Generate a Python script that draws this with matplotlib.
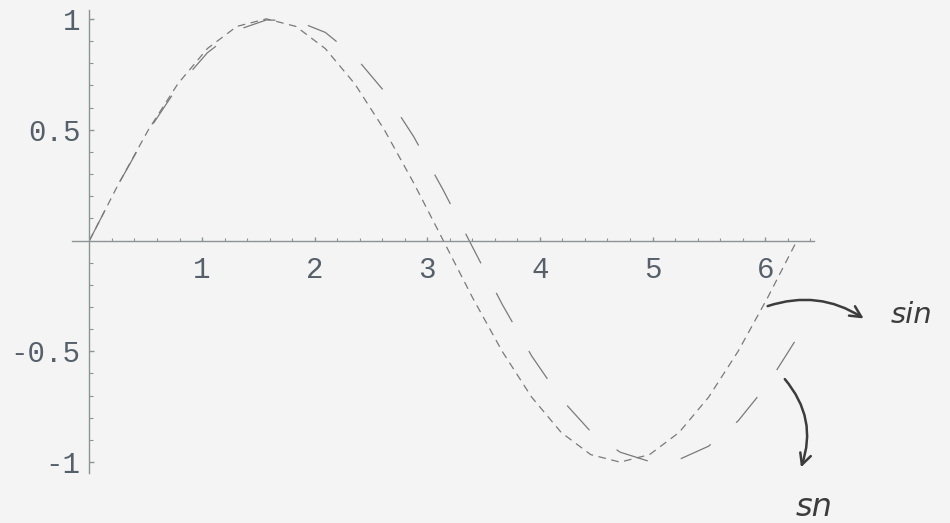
import matplotlib
matplotlib.use("Agg")
import matplotlib.pyplot as plt
from matplotlib.ticker import FixedLocator, FixedFormatter

# ---- data ----
x_vals = [0.000, 0.262, 0.524, 0.785, 1.047, 1.309, 1.571, 1.833, 2.094, 2.356,
          2.618, 2.880, 3.142, 3.403, 3.665, 3.927, 4.189, 4.451, 4.712, 4.974,
          5.236, 5.498, 5.760, 6.021, 6.283]
sin_vals = [0.000, 0.259, 0.500, 0.707, 0.866, 0.966, 1.000, 0.966, 0.866, 0.707,
            0.500, 0.259, 0.000, -0.259, -0.500, -0.707, -0.866, -0.966, -1.000, -0.966,
            -0.866, -0.707, -0.500, -0.259, 0.000]
sn_vals = [0.000, 0.258, 0.495, 0.694, 0.847, 0.949, 0.995, 0.992, 0.939, 0.831,
           0.673, 0.468, 0.227, -0.031, -0.288, -0.521, -0.715, -0.862, -0.955, -0.997,
           -0.988, -0.928, -0.814, -0.650, -0.440]

x_major = [1, 2, 3, 4, 5, 6]
x_major_labels = ["1", "2", "3", "4", "5", "6"]
y_major = [-1, -0.5, 0.5, 1]
y_major_labels = ["-1", "-0.5", "0.5", "1"]
x_minor = [i * 0.2 for i in range(1, 33) if abs(i * 0.2 - round(i * 0.2)) > 1e-6]
y_minor = [i * 0.1 for i in range(-10, 11) if i % 5 != 0]

plt.rcParams['lines.scale_dashes'] = False

W, H = 950, 523
fig = plt.figure(figsize=(W / 100, H / 100), dpi=100)
fig.patch.set_facecolor('#f4f4f4')

# axes placed by pixel extents of the axis lines
px_left, px_right, px_top, px_bottom = 72, 814, 10, 473
ax = fig.add_axes([px_left / W, 1 - px_bottom / H,
                   (px_right - px_left) / W, (px_bottom - px_top) / H])
ax.set_facecolor('none')
ax.set_xlim(-0.155, 6.434)
ax.set_ylim(-1.049, 1.040)

axis_col = '#8c9494'
for s in ['top', 'right']:
    ax.spines[s].set_visible(False)
ax.spines['left'].set_position(('data', 0))
ax.spines['bottom'].set_position(('data', 0))
for s in ['left', 'bottom']:
    ax.spines[s].set_color(axis_col)
    ax.spines[s].set_linewidth(1.0)

ax.xaxis.set_major_locator(FixedLocator(x_major))
ax.xaxis.set_major_formatter(FixedFormatter(x_major_labels))
ax.xaxis.set_minor_locator(FixedLocator(x_minor))
ax.yaxis.set_major_locator(FixedLocator(y_major))
ax.yaxis.set_major_formatter(FixedFormatter(y_major_labels))
ax.yaxis.set_minor_locator(FixedLocator(y_minor))

lab_col = '#55606a'
ax.tick_params(axis='x', which='major', direction='in', length=3, width=1,
               color=axis_col, pad=11, labelsize=21, labelcolor=lab_col)
ax.tick_params(axis='x', which='minor', direction='in', length=2, width=0.8,
               color=axis_col)
ax.tick_params(axis='y', which='major', direction='in', length=3.5, width=1,
               color=axis_col, pad=6.5, labelsize=21, labelcolor=lab_col)
ax.tick_params(axis='y', which='minor', direction='in', length=3, width=0.8,
               color=axis_col)
for lab in ax.get_xticklabels() + ax.get_yticklabels():
    lab.set_family(['Liberation Mono', 'DejaVu Sans Mono'])

line_col = '#7a7a7a'
ax.plot(x_vals, sin_vals, color=line_col, lw=0.9, dashes=(5.5, 4), clip_on=False)
ax.plot(x_vals, sn_vals, color=line_col, lw=0.9, dashes=(24, 24), clip_on=False)

# handwritten annotations
hand_col = '#3c3c3c'
ax.annotate("sin", xy=(891, H - 323), xycoords='figure pixels',
            fontsize=21, color=hand_col, family='DejaVu Sans', style='italic',
            ha='left', va='baseline', annotation_clip=False)
ax.annotate("sn", xy=(796, H - 516), xycoords='figure pixels',
            fontsize=23, color=hand_col, family='DejaVu Sans', style='italic',
            ha='left', va='baseline', annotation_clip=False)
ax.annotate("", xy=(866, H - 320), xycoords='figure pixels',
            xytext=(765, H - 307), textcoords='figure pixels',
            annotation_clip=False,
            arrowprops=dict(arrowstyle='->', color=hand_col, lw=1.8,
                            mutation_scale=20,
                            connectionstyle='arc3,rad=-0.25'))
ax.annotate("", xy=(800, H - 470), xycoords='figure pixels',
            xytext=(783, H - 377), textcoords='figure pixels',
            annotation_clip=False,
            arrowprops=dict(arrowstyle='->', color=hand_col, lw=1.8,
                            mutation_scale=20,
                            connectionstyle='arc3,rad=-0.3'))

fig.savefig("out.png", dpi=100, facecolor=fig.get_facecolor())
